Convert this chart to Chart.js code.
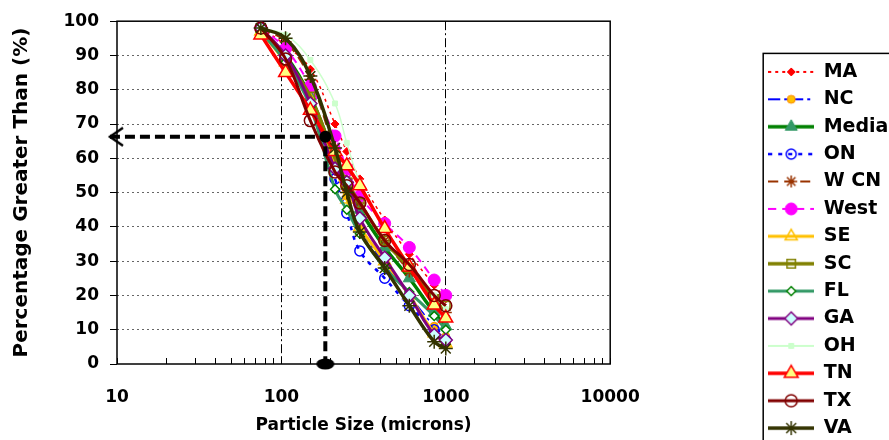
<!DOCTYPE html>
<html><head><meta charset="utf-8">
<script src="https://cdn.jsdelivr.net/npm/chart.js@4/dist/chart.umd.min.js"></script>
<style>
html,body{margin:0;padding:0;overflow:hidden;background:#fff;width:889px;height:440px}
#wrap{position:absolute;left:0;top:0;width:960px;height:446px}
canvas{display:block}
</style></head><body><div id="wrap"><canvas id="c" width="960" height="446"></canvas></div>
<script>
// ---------------- DATA ----------------
const seriesNames = ['MA','NC','Median','ON','W CN','West','SE','SC','FL','GA','OH','TN','TX','VA'];
const sieveSizes = [75, 106, 150, 212, 250, 300, 425, 600, 850, 1000];
const pctMA     = [98, 93, 86, 70, 62, 54, 42, 32, 23, 19];
const pctNC     = [98, 90, 78, 58, 49, 40, 29, 20, 11, 8];
const pctMedian = [97, 90, 78, 60, 52, 45, 34, 25, 15, 11];
const pctON     = [98, 89, 76, 54, 44, 33, 25, 17, 10, 7];
const pctWCN    = [98, 94, 83, 62, 54, 47, 36, 27, 19, 15];
const pctWest   = [98, 92, 81, 66.5, 57, 49, 41, 34, 24.5, 20];
const pctSE     = [97, 88, 77, 58, 48, 40, 30, 20, 9, 6];
const pctSC     = [98, 89, 78, 60, 53, 47, 36, 28, 19, 17];
const pctFL     = [97, 88, 75, 51, 45, 38, 28, 21, 14, 10];
const pctGA     = [98, 90, 76, 57, 53, 42.5, 31, 20, 8.5, 7];
const pctOH     = [98, 96, 88.7, 76, 64.5, 53, 40, 29, 20, 16];
const pctTN     = [96, 85, 74, 62, 57.8, 52, 39.5, 28.3, 17.2, 13.4];
const pctTX     = [98, 89, 71, 56, 52, 47, 36, 29, 20, 17];
const pctVA     = [98, 95, 84, 63, 50, 38.5, 28, 17, 6.5, 4.5];
const seriesValues = [pctMA, pctNC, pctMedian, pctON, pctWCN, pctWest, pctSE, pctSC, pctFL, pctGA, pctOH, pctTN, pctTX, pctVA];
const xTickLabels = [10, 100, 1000, 10000];
const xMajorGrid = [100, 1000];
// reference (median) annotation, in axis units
const refSizes = [9.06, 185, 185];
const refPercents = [66.3, 66.3, 0];

// ---------------- STYLES ----------------
const FONT = 'DejaVu Sans';
const styles = [
 {line:'#FF0000', lw:1.5, dash:[3,4], ps:'rectRot', r:4, fill:'#FF0000', border:'#FF0000', bw:1},
 {line:'#0000FF', lw:1.5, dash:[12,4,3,4], ps:'circle', r:4, fill:'#FFC000', border:'#FF8C00', bw:1},
 {line:'#008000', lw:3.5, dash:[], ps:'triangle', r:7, fill:'#339966', border:'#339966', bw:1},
 {line:'#0000FF', lw:2.5, dash:[4,6], ps:'circle', r:5, fill:'rgba(0,0,0,0)', border:'#0000FF', bw:1.5},
 {line:'#993300', lw:2, dash:[10,6], ps:'star', r:6, fill:'#993300', border:'#993300', bw:1.5},
 {line:'#FF00FF', lw:2, dash:[8,6], ps:'circle', r:6, fill:'#FF00FF', border:'#FF00FF', bw:1},
 {line:'#FFC000', lw:3, dash:[], ps:'triangle', r:7, fill:'rgba(0,0,0,0)', border:'#FFC000', bw:1.5},
 {line:'#808000', lw:3.5, dash:[], ps:'rect', r:6, fill:'rgba(0,0,0,0)', border:'#808000', bw:1.5},
 {line:'#339966', lw:3, dash:[], ps:'rectRot', r:4.5, fill:'#FFFFFF', border:'#008000', bw:1.5},
 {line:'#800080', lw:3, dash:[], ps:'rectRot', r:6.5, fill:'#CCFFFF', border:'#800080', bw:1.5},
 {line:'#CCFFCC', lw:1.5, dash:[], ps:'rect', r:3.5, fill:'#CCFFCC', border:'#CCFFCC', bw:1},
 {line:'#FF0000', lw:3.5, dash:[], ps:'triangle', r:8, fill:'#FFFF80', border:'#FF0000', bw:1.5},
 {line:'#800000', lw:3, dash:[], ps:'circle', r:6, fill:'rgba(0,0,0,0)', border:'#800000', bw:1.5},
 {line:'#333300', lw:3.5, dash:[], ps:'star', r:7, fill:'#333300', border:'#333300', bw:1.5}
];

// layout targets
const W = 960, H = 446;
const plotLeft = 117, plotTop = 20, plotRight = 610, plotBottom = 364;
const legendSampleLeft = 768;
let spacerWidth = 150;

function drawMarker(g, s, x, y) {
  g.setLineDash([]);
  g.fillStyle = s.fill; g.strokeStyle = s.border; g.lineWidth = s.bw;
  if (Chart.helpers && Chart.helpers.drawPoint) {
    Chart.helpers.drawPoint(g, {pointStyle: s.ps, radius: s.r, borderWidth: s.bw, rotation: 0}, x, y);
  } else {
    g.beginPath(); g.arc(x, y, s.r, 0, Math.PI * 2); g.fill(); g.stroke();
  }
}
function legendImage(s) {
  const c = document.createElement('canvas'); c.width = 46; c.height = 20;
  const g = c.getContext('2d');
  g.strokeStyle = s.line; g.lineWidth = Math.max(s.lw, 2); g.setLineDash(s.dash);
  g.beginPath(); g.moveTo(0, 10); g.lineTo(46, 10); g.stroke();
  drawMarker(g, s, 23, 10);
  return c;
}
function arrowImage() {
  const c = document.createElement('canvas'); c.width = 30; c.height = 24;
  const g = c.getContext('2d');
  g.strokeStyle = '#000'; g.lineWidth = 2.5; g.lineJoin = 'miter';
  g.beginPath(); g.moveTo(28, 3); g.lineTo(15, 12); g.lineTo(28, 21); g.stroke();
  return c;
}
function ellipseImage() {
  const c = document.createElement('canvas'); c.width = 20; c.height = 12;
  const g = c.getContext('2d');
  g.fillStyle = '#000';
  g.beginPath(); g.ellipse(10, 6, 9, 5.5, 0, 0, Math.PI * 2); g.fill();
  return c;
}
const legendImgs = styles.map(legendImage);

const datasets = seriesNames.map((name, i) => {
  const s = styles[i];
  return {
    type: 'line', label: name,
    data: sieveSizes.map((x, k) => ({x: x, y: seriesValues[i][k]})),
    borderColor: s.line, borderWidth: s.lw, borderDash: s.dash,
    tension: 0.4, fill: false,
    pointStyle: s.ps, pointRadius: s.r, pointBackgroundColor: s.fill,
    pointBorderColor: s.border, pointBorderWidth: s.bw,
    order: seriesNames.length - 1 - i
  };
});
datasets.push({
  type: 'line', label: 'ref',
  data: refSizes.map((x, k) => ({x: x, y: refPercents[k]})),
  borderColor: '#000', borderWidth: 4, borderDash: [10, 5], tension: 0, fill: false,
  pointStyle: [arrowImage(), 'circle', ellipseImage()],
  pointRadius: [14, 6, 8], pointBackgroundColor: '#000', pointBorderColor: '#000', pointBorderWidth: 0,
  clip: false, order: -1
});

const framePlugin = {
  id: 'frame',
  beforeDatasetsDraw(chart) {
    const a = chart.chartArea, g = chart.ctx;
    g.save(); g.strokeStyle = '#000'; g.lineWidth = 1.5; g.setLineDash([]);
    g.strokeRect(a.left, a.top, a.right - a.left, a.bottom - a.top);
    g.restore();
  },
  afterDraw(chart) {
    const hb = chart.legend && chart.legend.legendHitBoxes;
    if (!hb || !hb.length) return;
    const g = chart.ctx;
    const top = hb[0].top - 9, left = hb[0].left - 5;
    const last = hb[hb.length - 1];
    const bottom = last.top + last.height + 8;
    g.save(); g.strokeStyle = '#000'; g.lineWidth = 1.5; g.setLineDash([]);
    g.strokeRect(left, top, chart.width + 20 - left, bottom - top);
    g.restore();
  }
};

const tickFont = {family: FONT, weight: 'bold', size: 17};
const chart = new Chart(document.getElementById('c'), {
  type: 'line',
  data: {datasets: datasets},
  options: {
    responsive: false, animation: false, devicePixelRatio: 1,
    layout: {padding: {left: 0, top: plotTop, right: 0, bottom: 0}},
    plugins: {
      tooltip: {enabled: false},
      legend: {
        display: true, position: 'right', align: 'end',
        labels: {
          usePointStyle: true, pointStyleWidth: 46, padding: 8.4, color: '#000',
          font: {family: FONT, weight: 'bold', size: 19},
          generateLabels: () => seriesNames.map((n, i) => ({
            text: n, fillStyle: styles[i].fill, strokeStyle: styles[i].border, lineWidth: 0,
            pointStyle: legendImgs[i], hidden: false, datasetIndex: i, fontColor: '#000'
          }))
        }
      }
    },
    scales: {
      x: {
        type: 'logarithmic', min: 10, max: 10000, position: 'bottom',
        afterFit: s => { s.height = H - plotBottom; },
        border: {display: false, dash: [9, 3, 2, 3]},
        grid: {
          color: c => (c.tick && xMajorGrid.includes(c.tick.value)) ? '#000000' : 'rgba(0,0,0,0)',
          lineWidth: 1, tickColor: '#000000', tickLength: -6, tickWidth: 1, tickBorderDash: []
        },
        ticks: {
          autoSkip: false, maxRotation: 0, minRotation: 0, padding: 29, color: '#000', font: tickFont,
          callback: v => xTickLabels.includes(v) ? String(v) : ''
        },
        title: {display: true, text: 'Particle Size (microns)', color: '#000',
          font: {family: FONT, weight: 'bold', size: 17}, padding: {top: 0, bottom: 10}}
      },
      y: {
        type: 'linear', min: 0, max: 100, position: 'left',
        afterFit: s => { s.width = plotLeft; },
        border: {display: false, dash: [2, 3]},
        grid: {
          color: c => (c.tick && (c.tick.value === 0 || c.tick.value === 100)) ? 'rgba(0,0,0,0)' : '#666666',
          lineWidth: 1, tickColor: '#000000', tickLength: 7, tickWidth: 1, tickBorderDash: []
        },
        ticks: {stepSize: 10, padding: 11, color: '#000', font: tickFont},
        title: {display: true, text: 'Percentage Greater Than (%)', color: '#000',
          font: {family: FONT, weight: 'bold', size: 20}, padding: {top: 10, bottom: 0}}
      },
      y2: {
        type: 'linear', position: 'right', display: true,
        afterFit: s => { s.width = spacerWidth; },
        grid: {display: false, drawTicks: false}, border: {display: false}, ticks: {display: false}
      }
    }
  },
  plugins: [framePlugin]
});

// second pass: place the legend so its samples start where the reference's do
(function () {
  const lg = chart.legend;
  const offs = lg.legendHitBoxes[0].left - lg.left;
  const targetLeft = legendSampleLeft - offs;
  spacerWidth = targetLeft - plotRight;
  chart.options.layout.padding.right = Math.max(0, W - targetLeft - lg.width);
  chart.update('none');
})();
</script>
</body></html>
